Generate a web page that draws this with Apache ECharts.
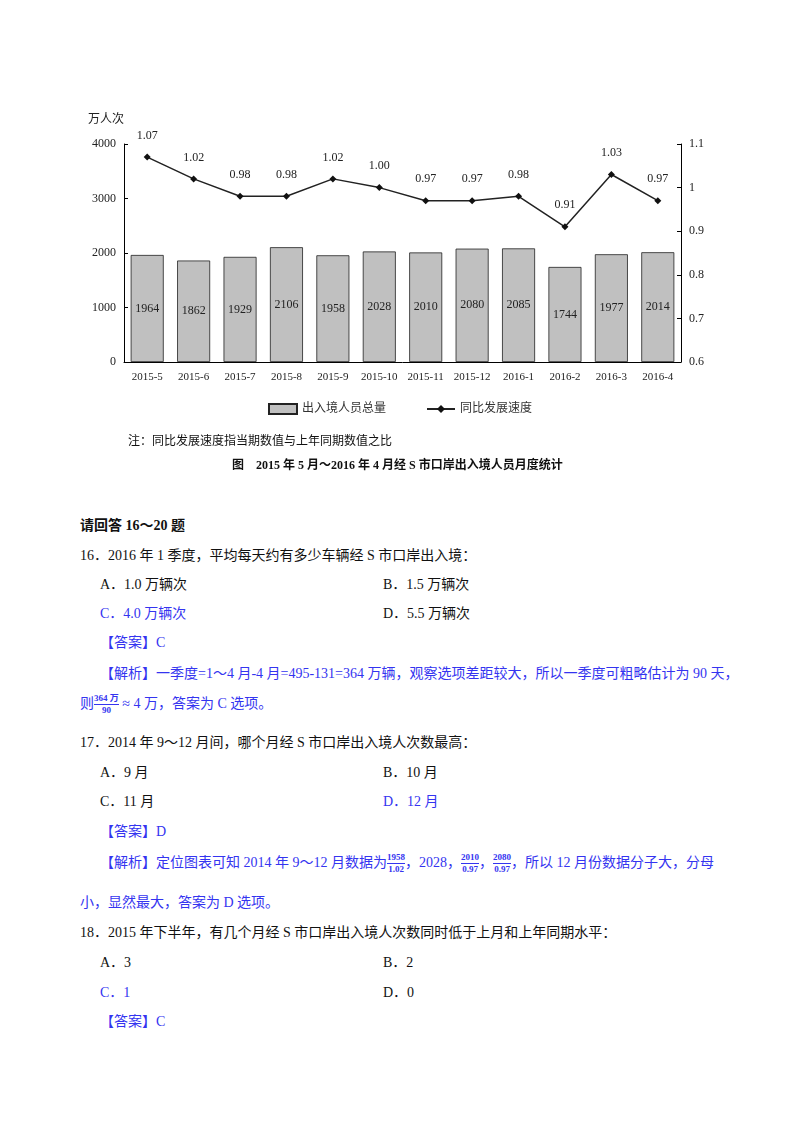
<!DOCTYPE html>
<html><head><meta charset="utf-8">
<script src="https://cdn.jsdelivr.net/npm/echarts@6/dist/echarts.min.js"></script>
<style>
body{margin:0;width:800px;height:1132px;background:#fff;font-family:"Liberation Serif","Noto Sans CJK SC",serif;font-size:14px;color:#111;position:relative;overflow:hidden}
#chart{position:absolute;left:0;top:0;width:800px;height:480px}
.l{position:absolute;white-space:nowrap;line-height:20px}
.b{color:#3434f0}
.fr{display:inline-block;vertical-align:middle;text-align:center;font-size:9px;line-height:11px;font-weight:bold}
.fr span{display:block}
.fr span:first-child{border-bottom:1px solid #3434f0}
</style></head><body>
<div id="chart"></div>
<div class="l" style="left:128px;top:431px;font-size:12px">注：同比发展速度指当期数值与上年同期数值之比</div>
<div class="l" style="left:232px;top:455px;font-size:12px;font-weight:bold">图　2015 年 5 月～2016 年 4 月经 S 市口岸出入境人员月度统计</div>

<div class="l" style="left:80px;top:516px;font-weight:bold">请回答 16～20 题</div>
<div class="l" style="left:80px;top:546px">16．2016 年 1 季度，平均每天约有多少车辆经 S 市口岸出入境：</div>
<div class="l" style="left:100px;top:575px">A．1.0 万辆次</div>
<div class="l" style="left:383px;top:575px">B．1.5 万辆次</div>
<div class="l b" style="left:100px;top:604px">C．4.0 万辆次</div>
<div class="l" style="left:383px;top:604px">D．5.5 万辆次</div>
<div class="l b" style="left:100px;top:633px">【答案】C</div>
<div class="l b" style="left:100px;top:664px">【解析】一季度=1～4 月-4 月=495-131=364 万辆，观察选项差距较大，所以一季度可粗略估计为 90 天，</div>
<div class="l b" style="left:80px;top:693px">则<span class="fr"><span>364 万</span><span>90</span></span> ≈ 4 万，答案为 C 选项。</div>
<div class="l" style="left:80px;top:733px">17．2014 年 9～12 月间，哪个月经 S 市口岸出入境人次数最高：</div>
<div class="l" style="left:100px;top:763px">A．9 月</div>
<div class="l" style="left:383px;top:763px">B．10 月</div>
<div class="l" style="left:100px;top:792px">C．11 月</div>
<div class="l b" style="left:383px;top:792px">D．12 月</div>
<div class="l b" style="left:100px;top:822px">【答案】D</div>
<div class="l b" style="left:100px;top:852px">【解析】定位图表可知 2014 年 9～12 月数据为<span class="fr"><span>1958</span><span>1.02</span></span>，2028，<span class="fr"><span>2010</span><span>0.97</span></span>，<span class="fr"><span>2080</span><span>0.97</span></span>，所以 12 月份数据分子大，分母</div>
<div class="l b" style="left:80px;top:893px">小，显然最大，答案为 D 选项。</div>
<div class="l" style="left:80px;top:923px">18．2015 年下半年，有几个月经 S 市口岸出入境人次数同时低于上月和上年同期水平：</div>
<div class="l" style="left:100px;top:953px">A．3</div>
<div class="l" style="left:383px;top:953px">B．2</div>
<div class="l b" style="left:100px;top:983px">C．1</div>
<div class="l" style="left:383px;top:983px">D．0</div>
<div class="l b" style="left:100px;top:1012px">【答案】C</div>
<script>
var months = ['2015-5','2015-6','2015-7','2015-8','2015-9','2015-10','2015-11','2015-12','2016-1','2016-2','2016-3','2016-4'];
var totals = [1964,1862,1929,2106,1958,2028,2010,2080,2085,1744,1977,2014];
var speeds = [1.07,1.02,0.98,0.98,1.02,1.00,0.97,0.97,0.98,0.91,1.03,0.97];

var font = '"Liberation Serif","Noto Sans CJK SC",serif';
var myChart = echarts.init(document.getElementById('chart'));
var option = {
    animation:false,
    textStyle:{fontFamily:font,color:'#222'},
    grid:{left:124,right:119,top:144,bottom:118},
    legend:{
        bottom:60,left:'center',itemGap:40,itemWidth:28,itemHeight:10,
        textStyle:{fontSize:12,color:'#333',fontFamily:font},
        data:[{name:'出入境人员总量',icon:'rect'},{name:'同比发展速度'}]
    },
    xAxis:{
        type:'category',data:months,
        axisLine:{lineStyle:{color:'#000'}},
        axisTick:{show:false},
        axisLabel:{color:'#222',fontSize:11,margin:10,interval:0}
    },
    yAxis:[{
        type:'value',min:0,max:4000,interval:1000,
        name:'万人次',nameGap:18,nameTextStyle:{align:'right',fontSize:12,color:'#222'},
        axisLine:{show:true,lineStyle:{color:'#000'}},
        axisTick:{show:true,inside:true,length:4,lineStyle:{color:'#000'}},
        splitLine:{show:false},
        axisLabel:{color:'#222',fontSize:12,formatter:function(v){return String(v);}}
    },{
        type:'value',min:0.6,max:1.1,interval:0.1,
        axisLine:{show:true,lineStyle:{color:'#000'}},
        axisTick:{show:true,inside:true,length:4,lineStyle:{color:'#000'}},
        splitLine:{show:false},
        axisLabel:{color:'#222',fontSize:12,formatter:function(v){return String(+v.toFixed(1));}}
    }],
    series:[{
        name:'出入境人员总量',type:'bar',data:totals,barWidth:33,
        itemStyle:{color:'#c0c0c0',borderColor:'#222',borderWidth:0.8},
        label:{show:true,position:'inside',color:'#222',fontSize:12}
    },{
        name:'同比发展速度',type:'line',yAxisIndex:1,data:speeds,
        symbol:'diamond',symbolSize:7,
        lineStyle:{color:'#222',width:1.5},itemStyle:{color:'#111'},
        label:{show:true,position:'top',distance:12,color:'#222',fontSize:12,
            formatter:function(p){return p.value.toFixed(2);}}
    }]
};
myChart.setOption(option);
</script>
</body></html>
